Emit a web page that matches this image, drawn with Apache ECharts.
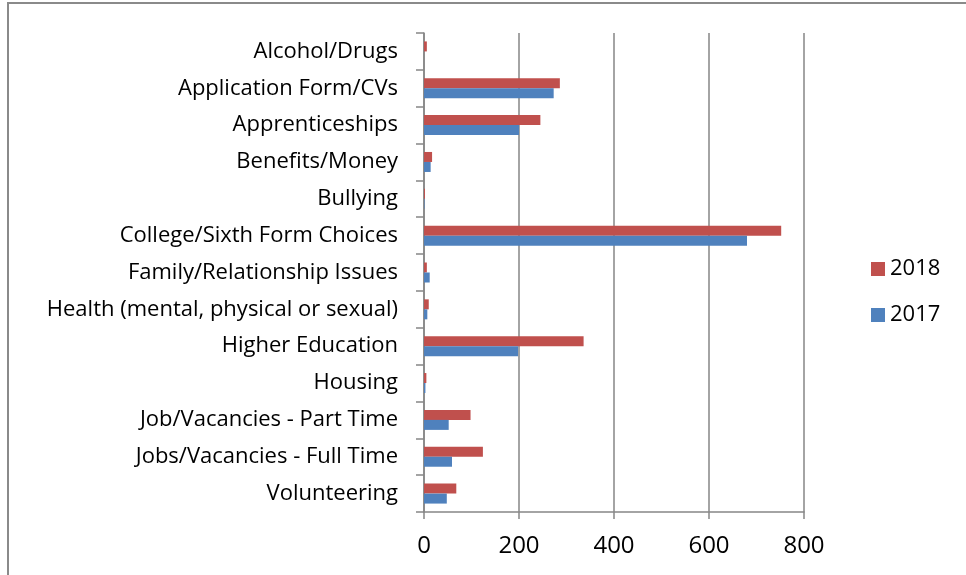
<!DOCTYPE html>
<html>
<head>
<meta charset="utf-8">
<script src="https://cdn.jsdelivr.net/npm/echarts@6/dist/echarts.min.js"></script>
<style>
html,body{margin:0;padding:0;background:#fff;}
#c{width:966px;height:575px;}
</style>
</head>
<body>
<div id="c"></div>
<script>
var categories = ["Alcohol/Drugs","Application Form/CVs","Apprenticeships","Benefits/Money","Bullying","College/Sixth Form Choices","Family/Relationship Issues","Health (mental, physical or sexual)","Higher Education","Housing","Job/Vacancies - Part Time","Jobs/Vacancies - Full Time","Volunteering"];
var values2018 = [6, 286, 245, 17, 2, 752, 6, 10, 336, 5, 98, 124, 68];
var values2017 = [0, 273, 200, 14, 1, 680, 12, 7, 198, 3, 52, 59, 48];
var xTicks = [0, 200, 400, 600, 800];

var FONT = 'Open Sans';
var chart = echarts.init(document.getElementById('c'), null, {renderer:'canvas'});
chart.setOption({
  animation:false,
  backgroundColor:'#fff',
  textStyle:{fontFamily:FONT},
  graphic:[{type:'rect', shape:{x:8,y:3,width:1000,height:700}, style:{fill:'none',stroke:'#8a8a8a',lineWidth:2}, silent:true}],
  grid:{left:424, top:33, right:162, bottom:63, containLabel:false},
  legend:{
    orient:'vertical', left:866, top:253,
    itemWidth:14, itemHeight:14, itemGap:24,
    icon:'rect',
    data:['2018','2017'],
    textStyle:{fontSize:22, color:'#000', fontFamily:FONT, padding:[0,0,0,0]}
  },
  xAxis:{
    type:'value', min:xTicks[0], max:xTicks[xTicks.length-1], interval:200,
    axisLine:{show:true, lineStyle:{color:'#868686', width:1.5}},
    axisTick:{show:true, length:7, lineStyle:{color:'#868686', width:1.5}},
    splitLine:{show:true, lineStyle:{color:'#868686', width:1.5}},
    axisLabel:{fontSize:24, color:'#000', fontFamily:FONT, margin:22}
  },
  yAxis:{
    type:'category', data:categories, inverse:true,
    axisLine:{show:true, lineStyle:{color:'#868686', width:1.5}},
    axisTick:{show:true, length:8, lineStyle:{color:'#868686', width:1.5}},
    axisLabel:{fontSize:22, color:'#000', fontFamily:FONT, margin:26}
  },
  series:[
    {name:'2018', type:'bar', data:values2018, barWidth:10, barGap:'0%', itemStyle:{color:'#C0504D'}},
    {name:'2017', type:'bar', data:values2017, barWidth:10, barGap:'0%', itemStyle:{color:'#4F81BD'}}
  ]
});
</script>
</body>
</html>
